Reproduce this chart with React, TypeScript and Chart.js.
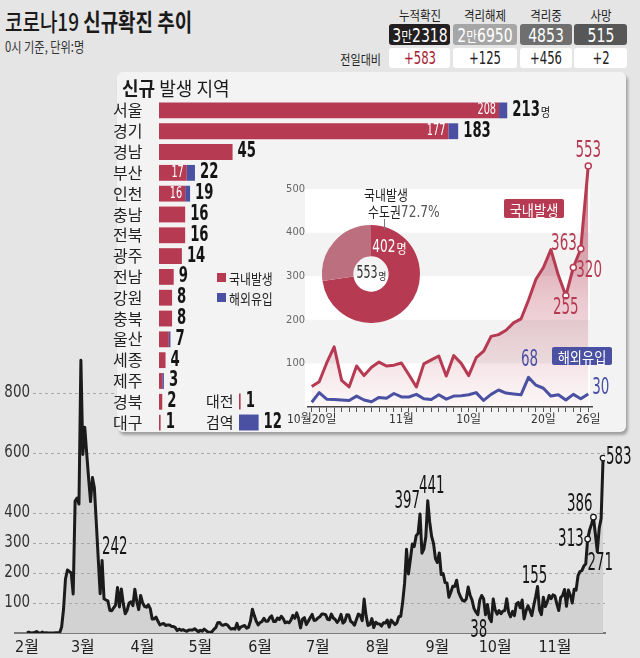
import React, { useEffect, useRef } from 'react';
import { Chart, registerables } from 'chart.js';

Chart.register(...registerables);

// ---------- main series: daily new cases, Feb 1 – Nov 26 ----------
const casesFeb = [1, 3, 0, 1, 2, 5, 1, 0, 3, 0, 1, 0, 0, 0, 0, 1, 1, 1, 20, 80, 180, 210, 205, 200, 130, 440, 450, 430, 909];
const casesMar = [595, 686, 600, 516, 438, 518, 483, 367, 248, 131, 242, 114, 110, 107, 76, 74, 84, 93, 152, 87, 147, 98, 64, 76, 100, 104, 91, 146, 105, 78, 125];
const casesApr = [101, 89, 86, 94, 81, 47, 47, 53, 39, 27, 30, 32, 25, 27, 27, 22, 22, 18, 8, 13, 9, 11, 8, 6, 10, 10, 10, 14, 9, 4];
const casesMay = [9, 6, 13, 8, 3, 2, 4, 12, 18, 34, 35, 27, 26, 29, 27, 19, 13, 15, 13, 32, 12, 20, 23, 25, 16, 19, 40, 79, 58, 39, 27];
const casesJun = [35, 38, 49, 39, 39, 51, 57, 38, 38, 50, 45, 56, 48, 34, 37, 34, 43, 59, 49, 67, 48, 17, 46, 51, 28, 39, 51, 62, 42, 43];
const casesJul = [50, 54, 63, 63, 61, 46, 44, 63, 50, 45, 35, 44, 62, 33, 39, 61, 60, 39, 34, 26, 45, 63, 59, 41, 113, 58, 25, 28, 48, 18, 36];
const casesAug = [31, 30, 23, 34, 33, 43, 20, 43, 36, 28, 34, 54, 56, 103, 166, 279, 197, 246, 297, 288, 324, 332, 397, 266, 280, 320, 441, 371, 323, 299, 248];
const casesSep = [235, 267, 195, 198, 168, 167, 119, 136, 156, 155, 176, 136, 121, 109, 106, 113, 153, 126, 110, 82, 70, 61, 110, 125, 114, 61, 95, 50, 38, 113];
const casesOct = [77, 63, 75, 64, 73, 75, 114, 69, 54, 72, 58, 97, 102, 84, 110, 47, 73, 91, 76, 58, 91, 121, 155, 77, 61, 119, 88, 103, 125, 114, 127];
const casesNov = [124, 97, 75, 118, 125, 145, 89, 143, 126, 100, 146, 143, 191, 205, 208, 223, 230, 313, 343, 363, 386, 330, 271, 349, 382, 583];

const monthSeries = [casesFeb, casesMar, casesApr, casesMay, casesJun, casesJul, casesAug, casesSep, casesOct, casesNov];
const monthLabels = ['2월', '3월', '4월', '5월', '6월', '7월', '8월', '9월', '10월', '11월'];
const dailyCases: number[] = monthSeries.flat();
const monthStartDays: number[] = monthSeries.map((_, i) => monthSeries.slice(0, i).reduce((s, m) => s + m.length, 0));
const mainYTicks = [100, 200, 300, 400, 600, 800];
const mainMarkerDays = [291, 294, 299];

// ---------- regional breakdown ----------
const regions = ['서울', '경기', '경남', '부산', '인천', '충남', '전북', '광주', '전남', '강원', '충북', '울산', '세종', '제주', '경북', '대구'];
const regionDomestic = [208, 177, 45, 17, 16, 16, 16, 14, 9, 8, 8, 6, 4, 2, 2, 1];
const regionImported = [5, 6, 0, 5, 3, 0, 0, 0, 0, 0, 0, 1, 0, 1, 0, 0];
const extraRegions = ['대전', '검역'];
const extraDomestic = [1, 0];
const extraImported = [0, 12];

// ---------- recent trend: Oct 20 – Nov 26 ----------
const trendStartMonth = 10;
const trendStartDay = 20;
const trendDomestic = [47, 58, 101, 138, 61, 46, 94, 72, 91, 103, 94, 96, 101, 74, 46, 99, 108, 117, 71, 118, 100, 72, 113, 128, 162, 166, 176, 193, 202, 245, 293, 320, 361, 302, 255, 320, 363, 553];
const trendImported = [11, 33, 18, 17, 16, 15, 25, 16, 12, 22, 20, 31, 23, 23, 29, 19, 17, 28, 18, 25, 26, 28, 33, 15, 29, 39, 32, 30, 28, 68, 50, 43, 25, 28, 16, 29, 19, 30];
const trendYTicks = [100, 200, 300, 400, 500];

// ---------- donut ----------
const capitalAreaCases = 402;
const domesticTotal = 553;

// ---------- top stats ----------
const statLabels = ['누적확진', '격리해제', '격리중', '사망'];
const statTotals = [32318, 26950, 4853, 515];
const statChanges = [583, 125, 456, 2];

const RED = '#b53a52';
const RED_LIGHT = '#bc6f7f';
const BLUE = '#4a51a2';
const BG = '#e5e5e5';
const NARROW = '"Liberation Sans Narrow", "Arial Narrow", "DejaVu Sans Condensed", "Noto Sans CJK KR", sans-serif';
const KR = '"Noto Sans CJK KR", "Noto Sans", sans-serif';

function drawText(ctx: CanvasRenderingContext2D, text: string, x: number, y: number, font: string, color: string, align: CanvasTextAlign, sx = 1) {
  ctx.save();
  ctx.font = font;
  ctx.fillStyle = color;
  ctx.textAlign = align;
  ctx.textBaseline = 'middle';
  ctx.translate(x, y);
  ctx.scale(sx, 1);
  ctx.fillText(text, 0, 0);
  ctx.restore();
}

const mainNotes = [
  { day: 39, dx: 0, dy: -13, align: 'left' },
  { day: 204, dx: 0, dy: -12, align: 'right' },
  { day: 208, dx: 4, dy: -14, align: 'center' },
  { day: 241, dx: -4, dy: 9, align: 'right' },
  { day: 265, dx: -3, dy: -10, align: 'center' },
  { day: 291, dx: -4, dy: 1, align: 'right' },
  { day: 294, dx: -1, dy: -12, align: 'right' },
  { day: 296, dx: 3, dy: 12, align: 'center' },
  { day: 299, dx: 3, dy: 0, align: 'left' },
];

const trendNotes = [
  { set: 1, idx: 37, dx: 0, dy: -15, align: 'center' },
  { set: 1, idx: 36, dx: -4, dy: -5, align: 'right' },
  { set: 1, idx: 35, dx: 3, dy: 4, align: 'left' },
  { set: 1, idx: 34, dx: 0, dy: 12, align: 'center' },
  { set: 0, idx: 29, dx: 1, dy: -17, align: 'center' },
  { set: 0, idx: 37, dx: 4, dy: -6, align: 'left' },
];

function trendTickLabel(i: number): string {
  let d = trendStartDay + i;
  let m = trendStartMonth;
  if (d > 31) { d -= 31; m += 1; }
  if (i === 0) return `${m}월${d}일`;
  if (d === 1) return `${m}월`;
  if (i === trendDomestic.length - 1 || d === 10 || d === 20) return `${d}일`;
  return '';
}

const mainDecor = {
  id: 'mainDecor',
  beforeDatasetDraw(chart: any) {
    const { ctx, chartArea, scales } = chart;
    ctx.save();
    ctx.strokeStyle = '#a8a8a8';
    ctx.lineWidth = 1;
    ctx.setLineDash([3, 3]);
    mainYTicks.forEach((v) => {
      const py = Math.round(scales.y.getPixelForValue(v)) + 0.5;
      ctx.beginPath();
      ctx.moveTo(33, py);
      ctx.lineTo(chartArea.right, py);
      ctx.stroke();
    });
    ctx.restore();
  },
  afterDatasetsDraw(chart: any) {
    const { ctx, scales } = chart;
    mainYTicks.forEach((v) => {
      drawText(ctx, String(v), 30, scales.y.getPixelForValue(v), `17px ${NARROW}`, '#333', 'right', 0.88);
    });
    const meta = chart.getDatasetMeta(0);
    mainNotes.forEach((n) => {
      const pt = meta.data[n.day];
      drawText(ctx, String(dailyCases[n.day]), pt.x + n.dx, pt.y + n.dy, `24px ${NARROW}`, '#151515', n.align as CanvasTextAlign, 0.62);
    });
  },
};

function barLabels(dom: number[], imp: number[], unit: boolean) {
  return {
    id: 'barLabels',
    afterDatasetsDraw(chart: any) {
      const { ctx, scales } = chart;
      const meta = chart.getDatasetMeta(0);
      dom.forEach((d, i) => {
        const total = d + imp[i];
        const yy = meta.data[i].y;
        const endX = scales.x.getPixelForValue(total);
        const txt = String(total);
        const f = `bold 21px ${NARROW}`;
        const sx = 0.7;
        drawText(ctx, txt, endX + 5, yy, f, '#151515', 'left', sx);
        if (unit && i === 0) {
          ctx.save();
          ctx.font = f;
          const w = ctx.measureText(txt).width * sx;
          ctx.restore();
          drawText(ctx, '명', endX + 6 + w, yy + 2, `12px ${KR}`, '#151515', 'left', 0.85);
        }
        if (imp[i] > 0 && d >= 10) {
          drawText(ctx, String(d), scales.x.getPixelForValue(d) - 3, yy, `15px ${NARROW}`, '#ffffff', 'right', 0.72);
        }
      });
    },
  };
}

const trendBands = {
  id: 'trendBands',
  beforeDraw(chart: any) {
    const { ctx, chartArea, scales } = chart;
    ctx.save();
    ctx.fillStyle = '#ffffff';
    [[0, 100], [200, 300], [400, 500]].forEach(([a, b]) => {
      const y1 = scales.y.getPixelForValue(b);
      const y0 = scales.y.getPixelForValue(a);
      ctx.fillRect(chartArea.left - 3, y1, chartArea.right - chartArea.left + 1, y0 - y1);
    });
    ctx.restore();
  },
  afterDatasetsDraw(chart: any) {
    const { ctx } = chart;
    trendNotes.forEach((n) => {
      const meta = chart.getDatasetMeta(n.set);
      const pt = meta.data[n.idx];
      const val = n.set === 1 ? trendDomestic[n.idx] : trendImported[n.idx];
      drawText(ctx, String(val), pt.x + n.dx, pt.y + n.dy, `23px ${NARROW}`, n.set === 1 ? RED : BLUE, n.align as CanvasTextAlign, 0.65);
    });
  },
};

const donutText = {
  id: 'donutText',
  afterDraw(chart: any) {
    const { ctx, chartArea } = chart;
    const cx = (chartArea.left + chartArea.right) / 2;
    const cy = (chartArea.top + chartArea.bottom) / 2;
    const sx = 0.72;
    ctx.save();
    ctx.font = `17px ${NARROW}`;
    const t = String(domesticTotal);
    const w = ctx.measureText(t).width * sx;
    ctx.restore();
    drawText(ctx, t, cx - 4 - w / 2, cy, `17px ${NARROW}`, '#333', 'left', sx);
    drawText(ctx, '명', cx - 3 + w / 2, cy + 2, `10px ${KR}`, '#333', 'left', 0.85);
    const a = (35 * Math.PI) / 180;
    const r = 33;
    const px = cx + r * Math.sin(a);
    const py = cy - r * Math.cos(a);
    ctx.save();
    ctx.font = `18px ${NARROW}`;
    const t2 = String(capitalAreaCases);
    const w2 = ctx.measureText(t2).width * 0.75;
    ctx.restore();
    drawText(ctx, t2, px - 6 - w2 / 2, py, `18px ${NARROW}`, '#fff', 'left', 0.75);
    drawText(ctx, '명', px - 5 + w2 / 2, py + 1, `13px ${KR}`, '#fff', 'left', 0.85);
  },
};

type TP = { x: number; y: number; size: number; sx?: number; w?: number; color?: string; align?: 'left' | 'center' | 'right'; family?: string; children: React.ReactNode };
function T({ x, y, size, sx = 0.85, w = 400, color = '#222', align = 'left', family = KR, children }: TP) {
  const tx = align === 'center' ? '-50%' : align === 'right' ? '-100%' : '0%';
  return (
    <div
      style={{
        position: 'absolute', left: x, top: y, fontSize: size, lineHeight: 1, fontWeight: w, color, fontFamily: family,
        whiteSpace: 'nowrap', transform: `translate(${tx},-50%) scaleX(${sx})`, transformOrigin: `${align} center`,
      }}
    >
      {children}
    </div>
  );
}

function renderMan(v: number) {
  if (v >= 10000) {
    return (
      <>
        {Math.floor(v / 10000)}
        <span style={{ fontFamily: KR, fontSize: 15 }}>만</span>
        {String(v % 10000).padStart(4, '0')}
      </>
    );
  }
  return String(v);
}

const boxX = [389, 453, 520, 574];
const boxW = [61, 64, 52, 53];
const boxBg = ['#231f20', '#a6a6a6', '#6f6f6f', '#575757'];

export default function App() {
  const mainRef = useRef<HTMLCanvasElement>(null);
  const barRef = useRef<HTMLCanvasElement>(null);
  const miniRef = useRef<HTMLCanvasElement>(null);
  const trendRef = useRef<HTMLCanvasElement>(null);
  const donutRef = useRef<HTMLCanvasElement>(null);

  useEffect(() => {
    const charts: Chart[] = [];
    const noPlug = { legend: { display: false }, tooltip: { enabled: false } };

    charts.push(new Chart(mainRef.current!, {
      type: 'line',
      data: {
        datasets: [{
          data: dailyCases.map((v, i) => ({ x: i, y: v })),
          borderColor: '#1b1b1b', borderWidth: 3, backgroundColor: '#d2d2d2', fill: 'origin', tension: 0,
          borderJoinStyle: 'round',
          pointRadius: (c: any) => (mainMarkerDays.includes(c.dataIndex) ? 2.8 : 0),
          pointBackgroundColor: '#fff', pointBorderColor: '#1b1b1b', pointBorderWidth: 1.3,
        }],
      },
      options: {
        animation: false, responsive: false, maintainAspectRatio: false,
        layout: { padding: { left: 15, right: 35, top: 15, bottom: 0 } },
        plugins: noPlug as any,
        scales: {
          x: {
            type: 'linear', min: -6.2, max: 300,
            afterBuildTicks: (s: any) => { s.ticks = monthStartDays.map((v) => ({ value: v })); },
            afterFit: (s: any) => { s.height = 25; s.paddingLeft = 0; s.paddingRight = 0; },
            ticks: {
              autoSkip: false, maxRotation: 0, padding: 5, color: '#222', font: { family: NARROW, size: 16 },
              callback: (v: any) => { const k = monthStartDays.indexOf(Number(v)); return k >= 0 ? monthLabels[k] : ''; },
            },
            grid: { display: false, drawTicks: false },
            border: { display: true, color: '#7a7a7a', width: 2 },
          },
          y: { display: false, min: 0, max: 960 },
        },
      } as any,
      plugins: [mainDecor],
    }));

    const barCfg = (labels: string[], dom: number[], imp: number[], max: number, axisW: number, fontSize: number, unit: boolean) => ({
      type: 'bar',
      data: {
        labels,
        datasets: [
          { data: dom, backgroundColor: RED, barPercentage: 0.76, categoryPercentage: 1, borderWidth: 0 },
          { data: imp, backgroundColor: BLUE, barPercentage: 0.76, categoryPercentage: 1, borderWidth: 0 },
        ],
      },
      options: {
        indexAxis: 'y', animation: false, responsive: false, maintainAspectRatio: false,
        layout: { padding: 0 },
        plugins: noPlug,
        scales: {
          x: { display: false, stacked: true, min: 0, max },
          y: {
            stacked: true,
            grid: { display: false, drawTicks: false },
            border: { display: false },
            ticks: { autoSkip: false, crossAlign: 'far', padding: 0, color: '#222', font: { family: KR, size: fontSize } },
            afterFit: (s: any) => { s.width = axisW; s.paddingTop = 0; s.paddingBottom = 0; },
          },
        },
      },
      plugins: [barLabels(dom, imp, unit)],
    });

    charts.push(new Chart(barRef.current!, barCfg(regions, regionDomestic, regionImported, 241, 46, 16, true) as any));
    charts.push(new Chart(miniRef.current!, barCfg(extraRegions, extraDomestic, extraImported, 41, 33, 15, false) as any));

    charts.push(new Chart(trendRef.current!, {
      type: 'line',
      data: {
        datasets: [
          {
            data: trendImported.map((v, i) => ({ x: i, y: v })),
            borderColor: BLUE, borderWidth: 3, pointRadius: 0, fill: false, tension: 0, borderJoinStyle: 'round',
          },
          {
            data: trendDomestic.map((v, i) => ({ x: i, y: v })),
            borderColor: RED, borderWidth: 3, fill: 'origin', tension: 0, borderJoinStyle: 'round',
            backgroundColor: (c: any) => {
              const ch = c.chart;
              const ca = ch.chartArea;
              if (!ca) return 'rgba(181,58,82,0.2)';
              const g = ch.ctx.createLinearGradient(0, ch.scales.y.getPixelForValue(550), 0, ca.bottom);
              g.addColorStop(0, 'rgba(181,58,82,0.72)');
              g.addColorStop(0.55, 'rgba(181,58,82,0.28)');
              g.addColorStop(1, 'rgba(181,58,82,0.04)');
              return g;
            },
            pointRadius: (c: any) => (c.dataIndex >= 34 ? 3 : 0),
            pointBackgroundColor: '#fff', pointBorderColor: RED, pointBorderWidth: 1.5,
          },
        ],
      },
      options: {
        animation: false, responsive: false, maintainAspectRatio: false,
        layout: { padding: { top: 20, right: 36, left: 0, bottom: 0 } },
        plugins: noPlug as any,
        scales: {
          x: {
            type: 'linear', min: -0.5, max: 37.5,
            afterBuildTicks: (s: any) => { s.ticks = trendDomestic.map((_, i) => ({ value: i })); },
            afterFit: (s: any) => { s.height = 20; s.paddingLeft = 0; s.paddingRight = 0; },
            ticks: {
              autoSkip: false, maxRotation: 0, padding: 1, color: '#333', font: { family: NARROW, size: 12 },
              callback: (v: any) => trendTickLabel(Number(v)),
            },
            grid: { display: true, drawOnChartArea: false, drawTicks: true, tickLength: 5, color: '#555', lineWidth: 1 },
            border: { display: true, color: '#444', width: 1.5 },
          },
          y: {
            min: 0, max: 601,
            afterBuildTicks: (s: any) => { s.ticks = trendYTicks.map((v) => ({ value: v })); },
            afterFit: (s: any) => { s.width = 25; s.paddingTop = 0; s.paddingBottom = 0; },
            ticks: { padding: 3, color: '#666', font: { family: NARROW, size: 11 } },
            grid: { display: false, drawTicks: false },
            border: { display: false },
          },
        },
      } as any,
      plugins: [trendBands],
    }));

    charts.push(new Chart(donutRef.current!, {
      type: 'doughnut',
      data: {
        labels: ['수도권', '비수도권'],
        datasets: [{ data: [capitalAreaCases, domesticTotal - capitalAreaCases], backgroundColor: [RED, RED_LIGHT], borderWidth: 0 }],
      },
      options: {
        animation: false, responsive: false, maintainAspectRatio: false, cutout: '36%',
        layout: { padding: 0 },
        plugins: noPlug as any,
      } as any,
      plugins: [donutText],
    }));

    return () => charts.forEach((c) => c.destroy());
  }, []);

  const pct = ((capitalAreaCases / domesticTotal) * 100).toFixed(1);

  return (
    <div style={{ position: 'absolute', left: 0, top: 0, width: 640, height: 658, background: BG, overflow: 'hidden', fontFamily: KR }}>
      <canvas ref={mainRef} width={640} height={328} style={{ position: 'absolute', left: 0, top: 330, width: 640, height: 328 }} />

      <T x={5} y={21} size={24} sx={0.79} color="#1a1a1a">
        <span style={{ fontWeight: 500 }}>코로나19 </span>
        <span style={{ fontWeight: 700 }}>신규확진 추이</span>
      </T>
      <T x={5} y={45.5} size={14} sx={0.8} color="#333">0시 기준, 단위:명</T>

      {statLabels.map((lab, i) => (
        <T key={'h' + i} x={boxX[i] + boxW[i] / 2} y={14} size={13} sx={0.88} align="center">{lab}</T>
      ))}
      {statTotals.map((v, i) => (
        <React.Fragment key={'b' + i}>
          <div style={{ position: 'absolute', left: boxX[i], top: 24, width: boxW[i], height: 21, background: boxBg[i], borderRadius: 3 }} />
          <T x={boxX[i] + boxW[i] / 2} y={34.5} size={20} sx={0.78} color="#fff" align="center" family={NARROW}>{renderMan(v)}</T>
        </React.Fragment>
      ))}
      <T x={381} y={58} size={13} sx={0.85} align="right">전일대비</T>
      {statChanges.map((v, i) => (
        <React.Fragment key={'c' + i}>
          <div style={{ position: 'absolute', left: boxX[i], top: 48, width: boxW[i], height: 20, background: '#fff', borderRadius: 3 }} />
          <T x={boxX[i] + boxW[i] / 2} y={58} size={18} sx={0.72} color={i === 0 ? '#a8182f' : '#222'} align="center" family={NARROW}>{'+' + v}</T>
        </React.Fragment>
      ))}

      <div style={{ position: 'absolute', left: 117, top: 72, width: 509, height: 360, background: '#f3f3f3', borderRadius: 6, boxShadow: '2px 3px 3px rgba(0,0,0,0.3)' }} />
      <T x={122} y={87} size={19} sx={0.95} color="#1a1a1a">
        <span style={{ fontWeight: 700 }}>신규</span> 발생 지역
      </T>

      <canvas ref={barRef} width={440} height={333} style={{ position: 'absolute', left: 113, top: 100, width: 440, height: 333 }} />
      <canvas ref={miniRef} width={100} height={42} style={{ position: 'absolute', left: 206, top: 391, width: 100, height: 42 }} />
      <canvas ref={trendRef} width={345} height={302} style={{ position: 'absolute', left: 283, top: 125, width: 345, height: 302 }} />
      <canvas ref={donutRef} width={98} height={98} style={{ position: 'absolute', left: 322, top: 225, width: 98, height: 98 }} />

      <div style={{ position: 'absolute', left: 217, top: 273, width: 9, height: 9, background: RED }} />
      <T x={229} y={278} size={14} sx={0.85}>국내발생</T>
      <div style={{ position: 'absolute', left: 217, top: 293, width: 9, height: 9, background: BLUE }} />
      <T x={229} y={298} size={14} sx={0.85}>해외유입</T>

      <T x={386} y={193.5} size={14} sx={0.85} align="center">국내발생</T>
      <T x={368} y={211.5} size={14} sx={0.85}>
        수도권<span style={{ fontFamily: NARROW, fontSize: 16, color: '#555' }}>{pct}%</span>
      </T>
      <div style={{ position: 'absolute', left: 384, top: 219, width: 1, height: 11, background: '#777' }} />

      <div style={{ position: 'absolute', left: 504, top: 199, width: 60, height: 19, background: RED, borderRadius: 2 }} />
      <T x={534} y={208.5} size={15} sx={0.88} color="#fff" align="center">국내발생</T>
      <div style={{ position: 'absolute', left: 552, top: 347, width: 60, height: 18, background: BLUE, borderRadius: 2 }} />
      <T x={582} y={356} size={15} sx={0.88} color="#fff" align="center">해외유입</T>
    </div>
  );
}
